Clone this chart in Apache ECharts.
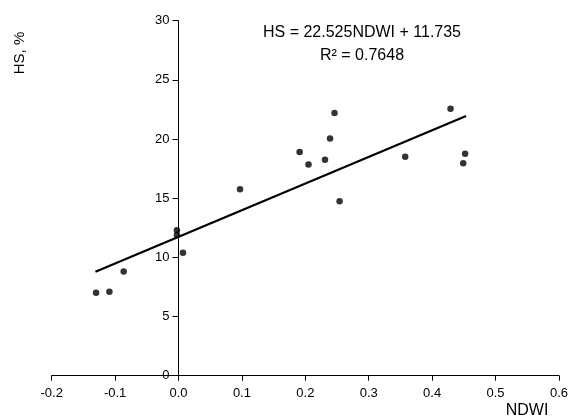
<!DOCTYPE html>
<html>
<head>
<meta charset="utf-8">
<script src="https://cdn.jsdelivr.net/npm/echarts@6/dist/echarts.min.js"></script>
<style>html,body{margin:0;padding:0;background:#fff;}#c{width:571px;height:418px;}</style>
</head>
<body>
<div id="c"></div>
<script>
var ndwi = [-0.130, -0.109, -0.0865, -0.0025, -0.0025, 0.007, 0.097, 0.191, 0.205, 0.231, 0.239, 0.246, 0.254, 0.3575, 0.429, 0.449, 0.452];
var hs   = [7.0, 7.1, 8.8, 12.3, 11.9, 10.4, 15.75, 18.9, 17.85, 18.25, 20.05, 22.2, 14.75, 18.5, 22.55, 17.95, 18.75];
var trendX = [-0.131, 0.4535];
var slope = 22.525, intercept = 11.735;
var xTicks = ['-0.2','-0.1','0.0','0.1','0.2','0.3','0.4','0.5','0.6'];
var eqText = 'HS = 22.525NDWI + 11.735';
var r2Text = 'R\u00b2 = 0.7648';

var font = '"Liberation Sans", Arial, sans-serif';
var gridLeft = 51.7;
var chart = echarts.init(document.getElementById('c'), null, {renderer: 'canvas'});
var option = {
  animation: false,
  backgroundColor: '#fff',
  grid: {left: gridLeft, right: 10.3, top: 20.7, bottom: 42.3, containLabel: false},
  xAxis: {
    type: 'value', min: -0.2, max: 0.6, interval: 0.1,
    axisLine: {show: true, onZero: true, lineStyle: {color: '#000', width: 1}},
    axisTick: {show: true, inside: false, length: 5, lineStyle: {color: '#000'}},
    splitLine: {show: false},
    axisLabel: {color: '#000', fontFamily: font, fontSize: 13, margin: 11,
      formatter: function (v) { var i = Math.round((v + 0.2) * 10); return xTicks[i]; }}
  },
  yAxis: {
    type: 'value', min: 0, max: 30, interval: 5, offset: 0,
    axisLine: {show: true, onZero: false, lineStyle: {color: '#000', width: 1}},
    axisTick: {show: true, inside: false, length: 6, lineStyle: {color: '#000'}},
    splitLine: {show: false},
    axisLabel: {color: '#000', fontFamily: font, fontSize: 13, margin: 9}
  },
  series: [
    {
      type: 'scatter',
      data: ndwi.map(function (x, i) { return [x, hs[i]]; }),
      symbol: 'circle', symbolSize: 6.5,
      itemStyle: {color: '#000'},
      z: 3
    },
    {
      type: 'line',
      data: trendX.map(function (x) { return [x, slope * x + intercept]; }),
      showSymbol: false, symbol: 'none',
      lineStyle: {color: '#000', width: 2.2},
      z: 2
    }
  ],
  graphic: [
    {type: 'text', x: 362, y: 33, style: {text: eqText, font: '16px ' + font, fill: '#000', align: 'center', verticalAlign: 'middle'}},
    {type: 'text', x: 362, y: 56, style: {text: r2Text, font: '16px ' + font, fill: '#000', align: 'center', verticalAlign: 'middle'}},
    {type: 'text', x: 20, y: 53, rotation: Math.PI / 2, style: {text: 'HS, %', font: '15px ' + font, fill: '#000', align: 'center', verticalAlign: 'middle'}},
    {type: 'text', x: 527, y: 411, style: {text: 'NDWI', font: '16px ' + font, fill: '#000', align: 'center', verticalAlign: 'middle'}}
  ]
};
chart.setOption(option);
// place the y axis on x = 0 using the x axis scale
var zeroPx = chart.convertToPixel({xAxisIndex: 0}, 0);
chart.setOption({yAxis: {offset: -(zeroPx - gridLeft)}});
</script>
</body>
</html>
